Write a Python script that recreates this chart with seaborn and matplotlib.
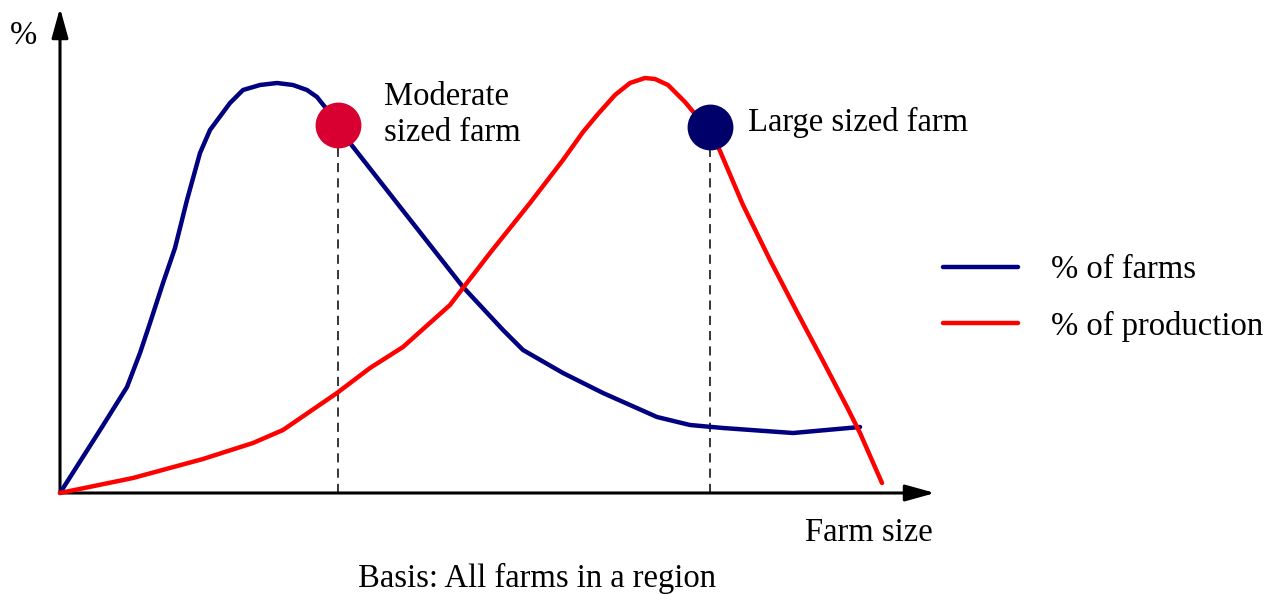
import matplotlib
matplotlib.use("Agg")
import matplotlib.pyplot as plt
import seaborn as sns
import pandas as pd

# =========================
# Data (x = farm size units, y = % units, origin at axis corner)
# =========================
farms_x = [0, 42, 67, 80, 90, 103, 115, 127, 140, 150, 170, 183, 200, 217, 233, 247,
           257, 265, 278, 290, 337, 403, 443, 463, 503, 543, 597, 630, 663, 733, 800]
farms_y = [0, 66, 106, 140, 170, 210, 245, 293, 340, 363, 390, 403, 408, 410, 408, 403,
           396, 386, 368, 350, 290, 206, 163, 143, 120, 100, 76, 68, 65, 60, 66]

prod_x = [0, 73, 143, 193, 223, 277, 310, 343, 390, 403, 430, 470, 503, 523, 538, 555,
          570, 585, 595, 608, 625, 640, 650, 660, 683, 710, 737, 763, 787, 800, 822]
prod_y = [0, 15, 34, 50, 63, 100, 125, 146, 188, 205, 240, 290, 333, 361, 379, 398,
          410, 415, 414, 408, 391, 373, 363, 342, 288, 233, 181, 132, 86, 60, 10]

marker_x = [278, 650]
marker_y = [368, 366]
marker_colors = ["#d80030", "#00006b"]
marker_labels = ["Moderate\nsized farm", "Large sized farm"]

series_names = ["% of farms", "% of production"]
series_colors = ["#000080", "#ff0000"]

# =========================
# Figure setup
# =========================
sns.set_style("white")
plt.rcParams["font.family"] = ["Liberation Serif", "DejaVu Serif"]
plt.rcParams["text.color"] = "black"

fig = plt.figure(figsize=(12.74, 5.94), dpi=100)
ax = fig.add_axes([0, 0, 1, 1])
ax.set_xlim(-60, 1214)
ax.set_ylim(-101, 493)
ax.axis("off")

# --- Curves ---
df_farms = pd.DataFrame({"x": farms_x, "y": farms_y})
df_prod = pd.DataFrame({"x": prod_x, "y": prod_y})
sns.lineplot(data=df_farms, x="x", y="y", sort=False, color=series_colors[0],
             linewidth=3.2, label=series_names[0], ax=ax, zorder=3)
sns.lineplot(data=df_prod, x="x", y="y", sort=False, color=series_colors[1],
             linewidth=3.2, label=series_names[1], ax=ax, zorder=3)

# --- Axes with arrows ---
arrow = dict(arrowstyle="-|>,head_length=1.8,head_width=0.5", color="black",
             linewidth=2.2, shrinkA=0, shrinkB=0)
ax.annotate("", xy=(0, 485), xytext=(0, 0), arrowprops=arrow, zorder=2)
ax.annotate("", xy=(875, 0), xytext=(0, 0), arrowprops=arrow, zorder=2)

# --- Dashed drop lines, markers and their labels ---
label_dx = [46, 38]
label_dy = [10, 5]
for i, (mx, my, c, lab) in enumerate(zip(marker_x, marker_y, marker_colors, marker_labels)):
    ax.plot([mx, mx], [0, my], color="black", linestyle=(0, (6, 4)), linewidth=1.1, zorder=2)
    ax.plot(mx, my, "o", color=c, markersize=32, zorder=4)
    ax.text(mx + label_dx[i], my + label_dy[i], lab, ha="left", va="center",
            fontsize=23.5, linespacing=1.25)

# --- Text labels ---
ax.text(-37, 457, "%", ha="center", va="center", fontsize=23.5)
ax.text(809, -40, "Farm size", ha="center", va="center", fontsize=23.5)
ax.text(477, -85, "Basis: All farms in a region", ha="center", va="center", fontsize=23.5)

# --- Legend ---
ax.legend(loc="center left", bbox_to_anchor=(0.730, 0.498), frameon=False,
          fontsize=23.5, handlelength=2.3, handletextpad=1.0, labelspacing=0.78,
          borderaxespad=0)

fig.savefig("out.png", dpi=100)
